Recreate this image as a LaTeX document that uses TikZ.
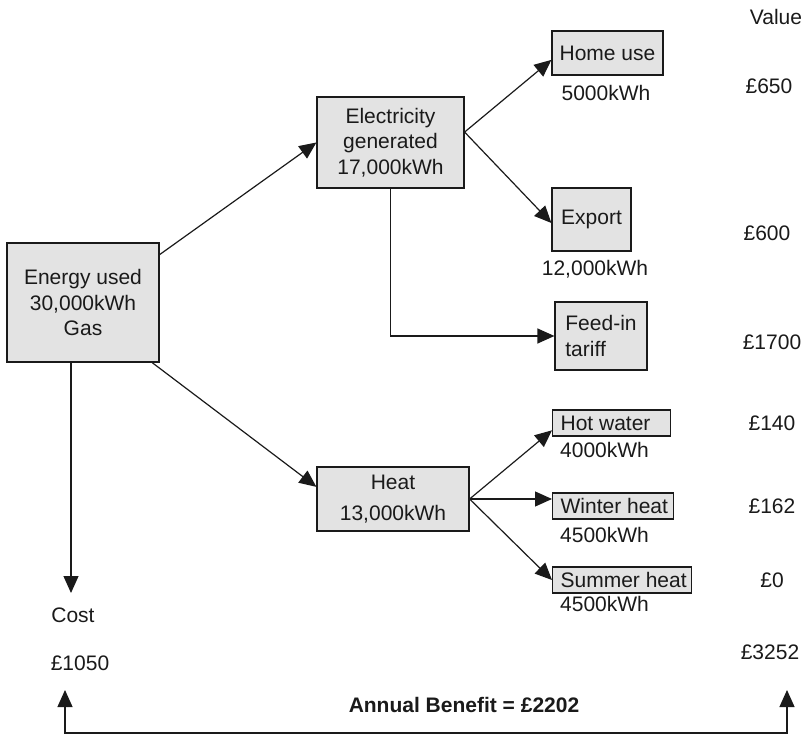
\documentclass[tikz,border=0pt]{standalone}
\usepackage{fontspec}
\setmainfont{Liberation Sans}
\usetikzlibrary{arrows.meta}
\definecolor{boxgray}{HTML}{E3E3E3}
\definecolor{linecol}{HTML}{1A1A1A}
\begin{document}
\begin{tikzpicture}[x=1pt,y=-1pt,
  box/.style={draw=linecol, fill=boxgray, line width=1.2pt, inner sep=0pt, align=center, text=linecol, font=\fontsize{21}{25.5}\selectfont},
  lbl/.style={inner sep=0pt, text=linecol, font=\fontsize{21}{25.5}\selectfont},
  arr/.style={draw=linecol, line width=1.2pt, -{Triangle[length=17pt,width=15pt]}},
  tipboth/.style={draw=linecol, line width=1.2pt, {Triangle[length=17pt,width=15pt]}-{Triangle[length=17pt,width=15pt]}},
]
\useasboundingbox (0,0) rectangle (804,735);

% boxes
\node[box, minimum width=152pt, minimum height=119pt] (energy) at (83,302.5) {Energy used\\30,000kWh\\Gas};
\node[box, minimum width=147pt, minimum height=91pt] (elec) at (390.5,142.5) {Electricity\\generated\\17,000kWh};
\node[box, minimum width=111pt, minimum height=44pt] (home) at (607.5,53) {Home use};
\node[box, minimum width=79pt, minimum height=63pt] (export) at (591.5,219.5) {Export};
\node[box, align=left, minimum width=92pt, minimum height=68pt] (feed) at (601,336) {Feed-in\\tariff};
\node[box, minimum width=152pt, minimum height=64pt] (heat) at (393,499) {Heat\\[6pt]13,000kWh};
\node[box, anchor=west, inner xsep=8pt, minimum height=26pt] (hot) at (552,423) {\makebox[102pt][l]{Hot water}};
\node[box, anchor=west, inner xsep=8pt, minimum height=26pt] (winter) at (552,506) {\makebox[105pt][l]{Winter heat}};
\node[box, anchor=west, inner xsep=8pt, minimum height=26pt] (summer) at (552,580) {\makebox[123pt][l]{Summer heat}};

% connectors
\coordinate (costtip) at (71,593);
\draw[arr] (energy.32) -- (elec.west);
\draw[arr] (energy.-41.6) -- (heat.171);
\draw[arr] (energy.south -| costtip) -- (costtip);
\draw[arr] (elec.8) -- (home.187);
\draw[arr] (elec.8) -- (export.185);
\draw[arr] (elec.south) |- (feed.west);
\draw[arr] (heat.east) -- (hot.187);
\draw[arr] (heat.east) -- (winter.west |- heat.east);
\draw[arr] (heat.east) -- (summer.west);

% bottom bracket
\coordinate (tl) at (65,690);
\coordinate (bl) at (65,733);
\coordinate (br) at (787,733);
\coordinate (tr) at (787,690);
\draw[tipboth] (tl) -- (bl) -- (br) -- (tr);

% labels
\node[lbl] (valhead) at (776,17) {Value};
\node[lbl] (v650) at (769,86) {£650};
\node[lbl] (v600) at (767,233) {£600};
\node[lbl] (v1700) at (772,342) {£1700};
\node[lbl] (v140) at (772,423) {£140};
\node[lbl] (v162) at (772,506) {£162};
\node[lbl] (v0) at (772,580) {£0};
\node[lbl] (v3252) at (770,652) {£3252};
\node[lbl] (cost) at (73,615) {Cost};
\node[lbl] (c1050) at (80,663) {£1050};
\node[lbl] (k5000) at (606,93) {5000kWh};
\node[lbl] (k12000) at (595,269) {12,000kWh};
\node[lbl, anchor=west] (k4000) at (560,450) {4000kWh};
\node[lbl, anchor=west] (k4500a) at (560,535) {4500kWh};
\node[lbl, anchor=west] (k4500b) at (560,604) {4500kWh};
\node[lbl, font=\fontsize{21}{25.5}\selectfont\bfseries] (benefit) at (464,705) {Annual Benefit = £2202};
\end{tikzpicture}
\end{document}
